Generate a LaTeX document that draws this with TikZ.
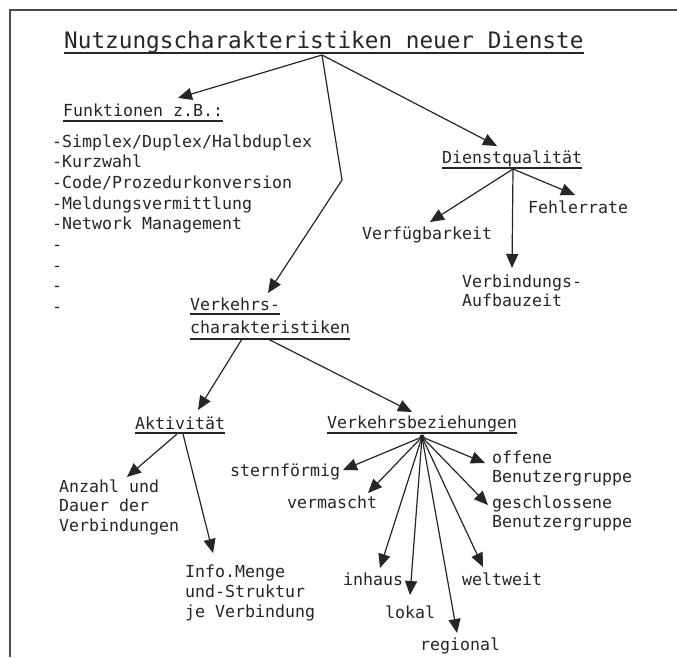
\documentclass[tikz,border=0pt]{standalone}
\usepackage{fontspec}
\newfontfamily\tw{DejaVu Sans Mono}
\usetikzlibrary{arrows.meta}
\begin{document}
\begin{tikzpicture}[x=1pt,y=-1pt,
  txt/.style={anchor=base west, inner sep=0pt, font=\tw\fontsize{16.6}{20.5}\selectfont, text=black!85},
  ttl/.style={anchor=base west, inner sep=0pt, font=\tw\fontsize{22.7}{27}\selectfont, text=black!85},
  arr/.style={line width=1.2pt, draw=black!85, -{Triangle[length=14pt,width=12pt]}},
  ln/.style={line width=1.2pt, draw=black!85},
  ul/.style={line width=1.4pt, draw=black!85},
  frame/.style={line width=1.4pt, draw=black!70}]
\useasboundingbox (0,0) rectangle (677,657);
\fill[white] (0,0) rectangle (677,657);
% frame
\draw[frame] (10,657) -- (10,10) -- (677,10);

% title
\node[ttl] (title) at (64,48) {Nutzungscharakteristiken neuer Dienste};
\draw[ul] ([yshift=-5pt]title.base west) -- ([yshift=-5pt]title.base east);
\coordinate (o1) at (322,55);

% Funktionen
\node[txt] (fkt) at (63,116) {Funktionen z.B.:};
\draw[ul] ([yshift=-5pt]fkt.base west) -- ([yshift=-5pt]fkt.base east);
\coordinate (tfkt) at (178,98);
\draw[arr] (o1) -- (tfkt);
\node[txt] (f1) at (52,147.0) {-Simplex/Duplex/Halbduplex};
\node[txt] (f2) at (52,167.7) {-Kurzwahl};
\node[txt] (f3) at (52,188.4) {-Code/Prozedurkonversion};
\node[txt] (f4) at (52,209.1) {-Meldungsvermittlung};
\node[txt] (f5) at (52,229.8) {-Network Management};
\node[txt] (f6) at (52,250.5) {-};
\node[txt] (f7) at (52,271.2) {-};
\node[txt] (f8) at (52,291.9) {-};
\node[txt] (f9) at (52,312.6) {-};

% Dienstqualitaet
\node[txt] (dq) at (442,163) {Dienstqualität};
\draw[ul] ([yshift=-5pt]dq.base west) -- ([yshift=-5pt]dq.base east);
\coordinate (tdq) at (497,146);
\draw[arr] (o1) -- (tdq);
\coordinate (o2) at (513,169);
\node[txt] (verf) at (362,239) {Verfügbarkeit};
\node[txt] (fehl) at (528,213) {Fehlerrate};
\node[txt] (vb1) at (462,287) {Verbindungs-};
\node[txt] (vb2) at (462,306) {Aufbauzeit};
\coordinate (tverf) at (430,222);
\coordinate (tfehl) at (575,195);
\coordinate (tvb) at (512,268);
\draw[arr] (o2) -- (tverf);
\draw[arr] (o2) -- (tfehl);
\draw[arr] (o2) -- (tvb);

% Verkehrscharakteristiken
\node[txt] (vc1) at (190,310) {Verkehrs-};
\node[txt] (vc2) at (190,333) {charakteristiken};
\draw[ul] ([yshift=-4pt]vc1.base west) -- ([yshift=-4pt]vc1.base east);
\draw[ul] ([yshift=-6pt]vc2.base west) -- ([yshift=-6pt]vc2.base east);
\coordinate (bend) at (342,180);
\coordinate (tvc) at (268,293);
\draw[arr] (o1) -- (bend) -- (tvc);
\coordinate (ovc1) at (242,339);
\coordinate (ovc2) at (268,339);

% Aktivitaet
\node[txt] (akt) at (135,429) {Aktivität};
\draw[ul] ([yshift=-4pt]akt.base west) -- ([yshift=-4pt]akt.base east);
\coordinate (takt) at (198,410);
\draw[arr] (ovc1) -- (takt);
\coordinate (oa1) at (177,434);
\coordinate (oa2) at (183,434);
\node[txt] (anz1) at (59,492) {Anzahl und};
\node[txt] (anz2) at (59,511) {Dauer der};
\node[txt] (anz3) at (59,531) {Verbindungen};
\node[txt] (inf1) at (185,577) {Info.Menge};
\node[txt] (inf2) at (185,597) {und-Struktur};
\node[txt] (inf3) at (185,617) {je Verbindung};
\coordinate (tanz) at (127,477);
\coordinate (tinf) at (213,553);
\draw[arr] (oa1) -- (tanz);
\draw[arr] (oa2) -- (tinf);

% Verkehrsbeziehungen
\node[txt] (vbz) at (327,428) {Verkehrsbeziehungen};
\draw[ul] ([yshift=-5pt]vbz.base west) -- ([yshift=-5pt]vbz.base east);
\coordinate (tvbz) at (412,412);
\draw[arr] (ovc2) -- (tvbz);
\coordinate (o3) at (422,437);
\fill[black!85] (o3) circle (2.5pt);

\node[txt] (stern) at (230,476) {sternförmig};
\node[txt] (verm) at (287,508) {vermascht};
\node[txt] (inh) at (343,585) {inhaus};
\node[txt] (lok) at (385,618) {lokal};
\node[txt] (reg) at (420,650) {regional};
\node[txt] (welt) at (462,585) {weltweit};
\node[txt] (off1) at (492,463) {offene};
\node[txt] (off2) at (492,482) {Benutzergruppe};
\node[txt] (ges1) at (492,508) {geschlossene};
\node[txt] (ges2) at (492,527) {Benutzergruppe};

\coordinate (tstern) at (343,470);
\coordinate (tverm) at (368,493);
\coordinate (tinh) at (380,568);
\coordinate (tlok) at (410,595);
\coordinate (treg) at (457,633);
\coordinate (twelt) at (483,567);
\coordinate (tges) at (488,505);
\coordinate (toff) at (485,463);
\foreach \t in {tstern,tverm,tinh,tlok,treg,twelt,tges,toff}
  \draw[arr] (o3) -- (\t);
\end{tikzpicture}
\end{document}
